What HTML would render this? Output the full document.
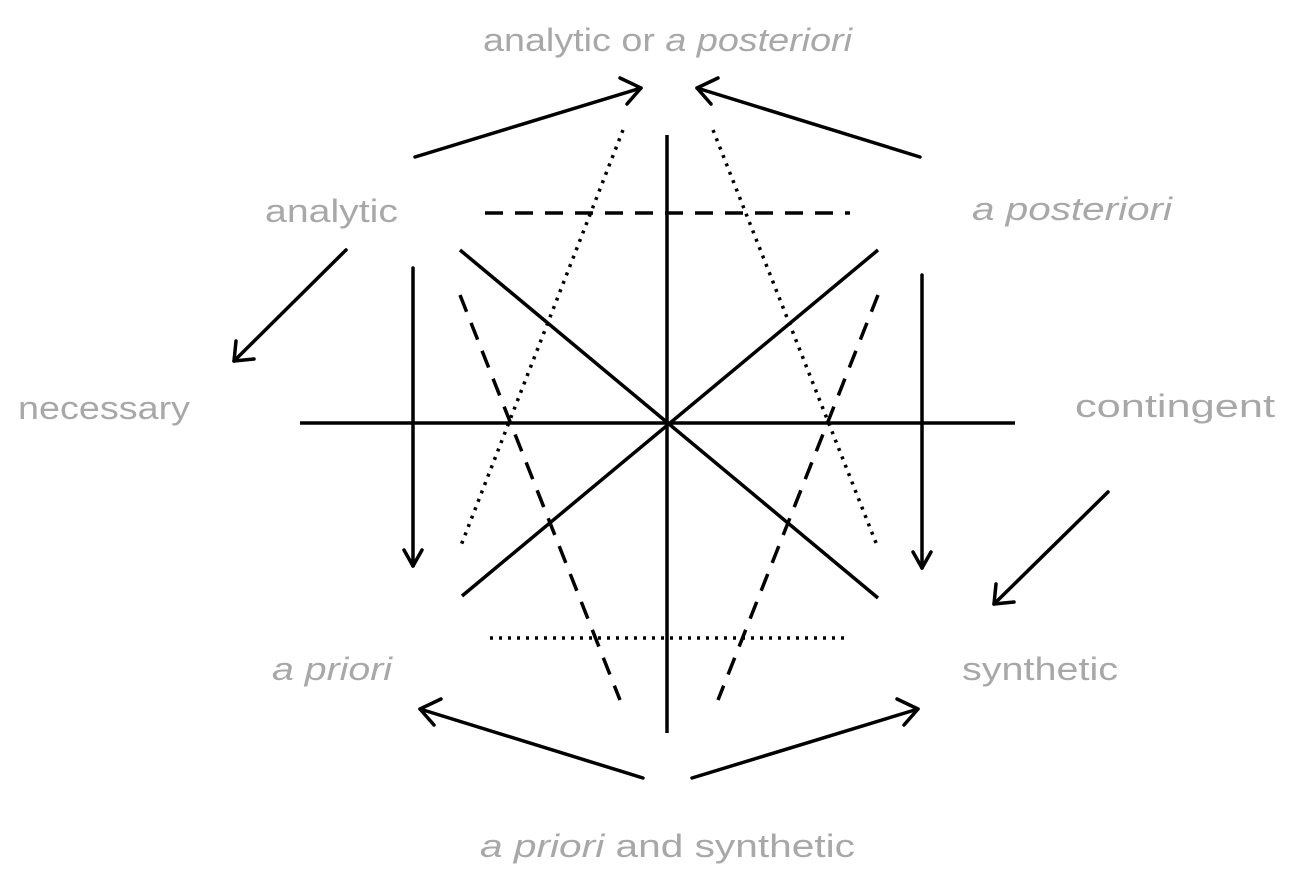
<!DOCTYPE html>
<html><head><style>
html,body{margin:0;padding:0;background:#fff;}
svg{display:block;}
text{font-family:"Liberation Sans",sans-serif;font-size:32px;fill:#a8a8a8;}
</style></head><body>
<svg width="1294" height="888" viewBox="0 0 1294 888">
<g stroke="#000" stroke-width="3.5" fill="none">
<line x1="667" y1="135" x2="667" y2="733"/>
<line x1="300" y1="423" x2="1015" y2="423"/>
<line x1="460" y1="250" x2="878" y2="598"/>
<line x1="878" y1="250" x2="462" y2="596"/>
<line x1="485" y1="213" x2="850" y2="213" stroke-dasharray="18,12"/>
<line x1="460" y1="295" x2="620" y2="700" stroke-dasharray="18,12"/>
<line x1="878" y1="295" x2="718" y2="700" stroke-dasharray="18,12"/>
<line x1="490" y1="638" x2="850" y2="638" stroke-dasharray="3,6"/>
<line x1="623" y1="130" x2="460" y2="548" stroke-dasharray="3,6"/>
<line x1="713" y1="130" x2="878" y2="548" stroke-dasharray="3,6"/>
</g>
<g stroke="#000" stroke-width="3.5" fill="none" stroke-linecap="round" stroke-linejoin="round">
<line x1="415" y1="157" x2="641" y2="88"/><polyline points="620,78 641,88 627,104"/>
<line x1="920" y1="157" x2="697" y2="88"/><polyline points="711,104 697,88 718,78"/>
<line x1="346" y1="250" x2="234" y2="361"/><polyline points="236,341 234,361 254,359"/>
<line x1="413" y1="268" x2="413" y2="566"/><polyline points="404,550 413,566 422,550"/>
<line x1="922" y1="275" x2="922" y2="568"/><polyline points="913,552 922,568 931,552"/>
<line x1="1108" y1="492" x2="994" y2="604"/><polyline points="996,584 994,604 1014,602"/>
<line x1="643" y1="778" x2="420" y2="709"/><polyline points="434,725 420,709 441,699"/>
<line x1="692" y1="778" x2="918" y2="709"/><polyline points="897,699 918,709 904,725"/>
</g>
<text x="483" y="51" textLength="369" lengthAdjust="spacingAndGlyphs">analytic or <tspan font-style="italic">a posteriori</tspan></text>
<text x="265" y="222" textLength="133" lengthAdjust="spacingAndGlyphs">analytic</text>
<text x="972" y="220" font-style="italic" textLength="200" lengthAdjust="spacingAndGlyphs">a posteriori</text>
<text x="18" y="419" textLength="172" lengthAdjust="spacingAndGlyphs">necessary</text>
<text x="1075" y="417" textLength="200" lengthAdjust="spacingAndGlyphs">contingent</text>
<text x="272" y="680" font-style="italic" textLength="120" lengthAdjust="spacingAndGlyphs">a priori</text>
<text x="962" y="680" textLength="156" lengthAdjust="spacingAndGlyphs">synthetic</text>
<text x="480" y="857" textLength="375" lengthAdjust="spacingAndGlyphs"><tspan font-style="italic">a priori</tspan> and synthetic</text>
</svg>
</body></html>
